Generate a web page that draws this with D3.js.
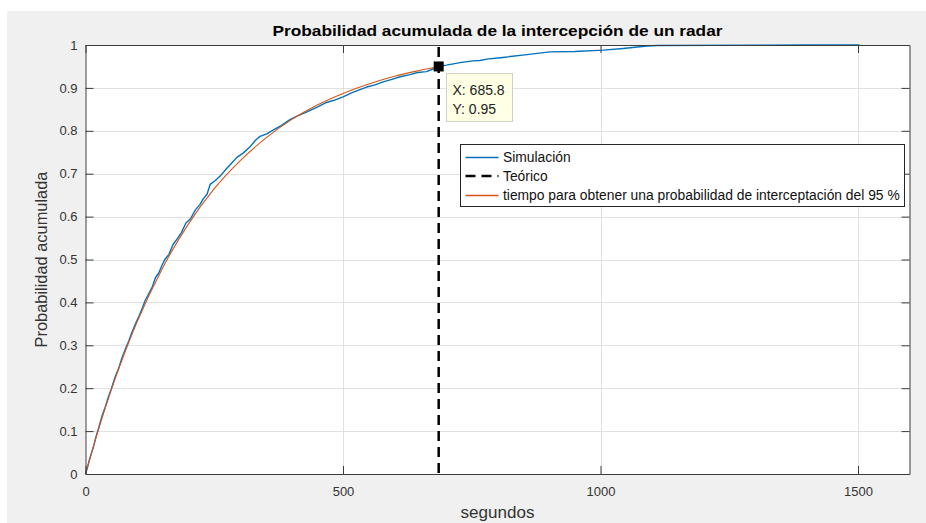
<!DOCTYPE html>
<html>
<head>
<meta charset="utf-8">
<script src="https://cdn.jsdelivr.net/npm/d3@7.9.0/dist/d3.min.js"></script>
<style>
  html, body { margin: 0; padding: 0; background: #fff; }
  svg { display: block; font-family: "Liberation Sans", Arial, sans-serif; }
</style>
</head>
<body>
<svg width="926" height="523"></svg>
<script>
// simulated cumulative probability
const simT = [0, 3, 8, 12, 16, 20, 25, 28, 32, 38, 45, 50, 58, 64, 70, 77, 84, 90, 97, 104,
  110, 116, 122, 130, 136, 142, 148, 154, 162, 170, 178, 186, 195, 204, 213, 222, 229, 236,
  242, 252, 262, 274, 284, 294, 306, 319, 330, 339, 352, 365, 380, 397, 412, 430, 450, 468,
  485, 500, 520, 546, 562, 578, 595, 611, 630, 645, 662, 675, 685.8, 701, 727, 752, 766, 779,
  810, 853, 902, 950, 1005, 1044, 1090, 1110, 1398, 1503];
const simP = [0, 0.012, 0.035, 0.05, 0.066, 0.085, 0.105, 0.118, 0.135, 0.155, 0.182, 0.198,
  0.228, 0.245, 0.268, 0.29, 0.31, 0.33, 0.35, 0.368, 0.386, 0.405, 0.418, 0.437, 0.458,
  0.468, 0.485, 0.5, 0.512, 0.535, 0.548, 0.562, 0.585, 0.595, 0.615, 0.628, 0.642, 0.652,
  0.675, 0.684, 0.695, 0.712, 0.725, 0.738, 0.748, 0.762, 0.778, 0.787, 0.793, 0.802, 0.812,
  0.826, 0.835, 0.844, 0.855, 0.866, 0.872, 0.879, 0.89, 0.902, 0.907, 0.914, 0.92, 0.926,
  0.931, 0.936, 0.938, 0.944, 0.95, 0.953, 0.959, 0.963, 0.964, 0.967, 0.971, 0.977, 0.984,
  0.985, 0.988, 0.992, 0.9977, 0.999, 1, 1];

// theoretical curve (orange), up to the 95 % point
const teoT = [0, 25, 50, 75, 100, 150, 200, 250, 300, 350, 400, 450, 500, 550, 600, 650, 685.8];
const teoP = [0, 0.103, 0.196, 0.279, 0.354, 0.481, 0.583, 0.665, 0.73, 0.783, 0.826, 0.86,
  0.887, 0.909, 0.927, 0.941, 0.95];

const xTicks = [0, 500, 1000, 1500];
const yTicks = [0, 0.1, 0.2, 0.3, 0.4, 0.5, 0.6, 0.7, 0.8, 0.9, 1];
const yTickLabels = ['0', '0.1', '0.2', '0.3', '0.4', '0.5', '0.6', '0.7', '0.8', '0.9', '1'];

const tipX = 685.8;
const tipY = 0.95;

const legendLabels = ['Simulación', 'Teórico', 'tiempo para obtener una probabilidad de interceptación del 95 %'];

const blue = '#0072bd';
const orange = '#d95319';
const axisColor = '#3c3c3c';

const svg = d3.select('svg');

// figure background
svg.append('rect').attr('x', 7).attr('y', 11).attr('width', 919).attr('height', 512).attr('fill', '#f0f0f0');

const x = d3.scaleLinear().domain([0, 1600]).range([85.5, 909.5]);
const y = d3.scaleLinear().domain([0, 1]).range([474, 45]);

svg.append('rect')
  .attr('x', x(0)).attr('y', y(1))
  .attr('width', x(1600) - x(0)).attr('height', y(0) - y(1))
  .attr('fill', '#fff');

// grid
const grid = svg.append('g').attr('stroke', '#e1e1e1').attr('stroke-width', 1);
yTicks.slice(1, -1).forEach(v => {
  grid.append('line').attr('x1', x(0)).attr('x2', x(1600)).attr('y1', Math.round(y(v)) + 0.5).attr('y2', Math.round(y(v)) + 0.5);
});
xTicks.slice(1).forEach(v => {
  grid.append('line').attr('y1', y(0)).attr('y2', y(1)).attr('x1', Math.round(x(v)) + 0.5).attr('x2', Math.round(x(v)) + 0.5);
});

// simulation curve
const simData = simT.map((t, i) => [t, simP[i]]);
svg.append('path')
  .datum(simData)
  .attr('fill', 'none')
  .attr('stroke', blue)
  .attr('stroke-width', 1.4)
  .attr('stroke-linejoin', 'round')
  .attr('d', d3.line().x(d => x(d[0])).y(d => y(d[1])));

// vertical dashed line
svg.append('line')
  .attr('x1', x(tipX)).attr('x2', x(tipX))
  .attr('y1', y(1) + 2).attr('y2', y(0))
  .attr('stroke', '#000').attr('stroke-width', 2.5)
  .attr('stroke-dasharray', '10,6');

// theoretical curve
const teoData = teoT.map((t, i) => [t, teoP[i]]);
svg.append('path')
  .datum(teoData)
  .attr('fill', 'none')
  .attr('stroke', orange)
  .attr('stroke-width', 1.1)
  .attr('d', d3.line().x(d => x(d[0])).y(d => y(d[1])).curve(d3.curveMonotoneX));

// axes (box with inward ticks)
function styleAxis(g) {
  g.selectAll('path, line').attr('stroke', axisColor);
  g.selectAll('text').attr('fill', '#333').attr('font-size', 13).attr('font-family', '"Liberation Sans", Arial, sans-serif');
}
svg.append('g').attr('transform', `translate(0,${y(0)})`)
  .call(d3.axisBottom(x).tickValues(xTicks).tickFormat(d3.format('d')).tickSize(-8).tickSizeOuter(0).tickPadding(13))
  .call(styleAxis);
svg.append('g').attr('transform', `translate(0,${y(1)})`)
  .call(d3.axisTop(x).tickValues(xTicks).tickFormat('').tickSize(-8).tickSizeOuter(0))
  .call(styleAxis);
svg.append('g').attr('transform', `translate(${x(0)},0)`)
  .call(d3.axisLeft(y).tickValues(yTicks).tickFormat((d, i) => yTickLabels[i]).tickSize(-8).tickSizeOuter(0).tickPadding(8))
  .call(styleAxis);
svg.append('g').attr('transform', `translate(${x(1600)},0)`)
  .call(d3.axisRight(y).tickValues(yTicks).tickFormat('').tickSize(-8).tickSizeOuter(0))
  .call(styleAxis);

// fit a text to a measured width by scaling its font size
function fitWidth(sel, width) {
  const size = +sel.attr('font-size');
  const w = sel.node().getComputedTextLength();
  sel.attr('font-size', size * width / w);
  return size * width / w;
}

// title and labels
const title = svg.append('text')
  .attr('x', 497.5).attr('y', 35.5)
  .attr('text-anchor', 'middle')
  .attr('font-size', 15).attr('font-weight', 'bold').attr('fill', '#000')
  .text('Probabilidad acumulada de la intercepción de un radar');
title.attr('textLength', 450).attr('lengthAdjust', 'spacingAndGlyphs');

const xLabel = svg.append('text')
  .attr('x', 497.5).attr('y', 518)
  .attr('text-anchor', 'middle')
  .attr('font-size', 14).attr('fill', '#333')
  .text('segundos');
fitWidth(xLabel, 74);

const yLabel = svg.append('text')
  .attr('transform', `translate(47,${(y(0) + y(1)) / 2}) rotate(-90)`)
  .attr('text-anchor', 'middle')
  .attr('font-size', 14).attr('fill', '#333')
  .text('Probabilidad acumulada');
fitWidth(yLabel, 176);

// data tip
svg.append('rect')
  .attr('x', x(tipX) - 5).attr('y', y(tipY) - 5)
  .attr('width', 10).attr('height', 10)
  .attr('fill', '#000');

const tip = svg.append('g').attr('transform', 'translate(446.5,73.5)');
tip.append('rect')
  .attr('width', 66).attr('height', 48)
  .attr('fill', '#ffffe4').attr('stroke', '#d0d0c8').attr('stroke-width', 1);
tip.append('text').attr('x', 6).attr('y', 21.5).attr('font-size', 14).attr('fill', '#222')
  .text(`X: ${tipX}`);
tip.append('text').attr('x', 6).attr('y', 40.5).attr('font-size', 14).attr('fill', '#222')
  .text(`Y: ${tipY}`);

// legend
const legend = svg.append('g').attr('transform', 'translate(460.5,144.5)');
legend.append('rect')
  .attr('width', 444).attr('height', 62)
  .attr('fill', '#fff').attr('stroke', '#262626').attr('stroke-width', 1);

const legendStyles = [
  { color: blue, width: 1.4, dash: null },
  { color: '#000', width: 2.5, dash: '10,6' },
  { color: orange, width: 1.3, dash: null }
];
const rowY = [13, 31.5, 51];
const legendTexts = legendLabels.map((label, i) => {
  legend.append('line')
    .attr('x1', 5).attr('x2', 38)
    .attr('y1', rowY[i]).attr('y2', rowY[i])
    .attr('stroke', legendStyles[i].color)
    .attr('stroke-width', legendStyles[i].width)
    .attr('stroke-dasharray', legendStyles[i].dash);
  return legend.append('text')
    .attr('x', 42.5).attr('y', rowY[i]).attr('dy', '0.35em')
    .attr('font-size', 12).attr('fill', '#111')
    .text(label);
});
const legendSize = fitWidth(legendTexts[2], 397);
legendTexts.forEach(t => t.attr('font-size', legendSize));
</script>
</body>
</html>
